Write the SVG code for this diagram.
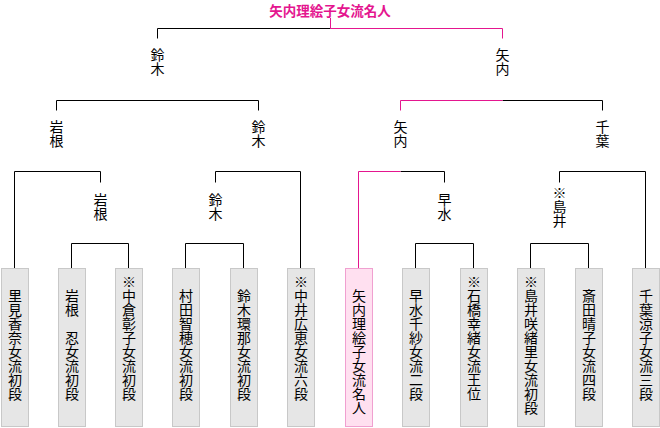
<svg xmlns="http://www.w3.org/2000/svg" width="660" height="428" viewBox="0 0 660 428">
<style>
text{font-family:"Noto Sans CJK JP","Noto Sans CJK SC",sans-serif;font-size:14px;fill:#000}
.v{writing-mode:vertical-rl;text-anchor:middle}
.vs{writing-mode:vertical-rl;text-anchor:start}
.box{fill:#e6e6e6;stroke:#c8c8c8;stroke-width:1}
.win{fill:#ffe0f0;stroke:#f0a0d0;stroke-width:1}
.l{fill:none;stroke:#000;stroke-width:1}
.p{fill:none;stroke:#e4168f;stroke-width:1}
.title{fill:#e4168f;font-weight:bold;text-anchor:middle;font-size:13.5px}
</style>
<rect width="660" height="428" fill="#fff"/>
<g id="connectors">
<path class="l" d="M71.5 268V243.5H128.5V268M185.5 268V243.5H243.5V268M415.5 268V243.5H473.5V268M530.5 268V243.5H588.5V268"/>
<path class="l" d="M14.5 268V171.5H100.5V182.5M215.5 182.5V171.5H300.5V268M400.5 171.5H444.5V182.5M559.5 182.5V171.5H645.5V268"/>
<path class="p" d="M358.5 268V171.5H400.5"/>
<path class="l" d="M56.5 110.5V100.5H258.5V110.5M502.5 100.5H602.5V110.5"/>
<path class="p" d="M400.5 110.5V100.5H502.5"/>
<path class="l" d="M157.5 38.5V28.5H330.5"/>
<path class="p" d="M330.5 18V28.5H502.5V38.5"/>
</g>
<g id="title"><text class="title" x="330" y="15.5">矢内理絵子女流名人</text></g>
<g id="r1-suzuki"><text class="v" x="157.5" y="62">鈴木</text></g>
<g id="r1-yauchi"><text class="v" x="502.5" y="62">矢内</text></g>
<g id="r2-iwane"><text class="v" x="56.5" y="134">岩根</text></g>
<g id="r2-suzuki"><text class="v" x="258.5" y="134">鈴木</text></g>
<g id="r2-yauchi"><text class="v" x="400.5" y="134">矢内</text></g>
<g id="r2-chiba"><text class="v" x="602.5" y="134">千葉</text></g>
<g id="r3-iwane"><text class="v" x="100.5" y="207">岩根</text></g>
<g id="r3-suzuki"><text class="v" x="215.5" y="207">鈴木</text></g>
<g id="r3-hayamizu"><text class="v" x="444.5" y="207">早水</text></g>
<g id="r3-shimai"><text class="v" x="559.5" y="207">※島井</text></g>
<g id="p1"><rect class="box" x="1.5" y="268.5" width="27" height="158"/><text class="vs" x="15" y="289">里見香奈女流初段</text></g>
<g id="p2"><rect class="box" x="58.5" y="268.5" width="27" height="158"/><text class="vs" x="72" y="289">岩根　忍女流初段</text></g>
<g id="p3"><rect class="box" x="115.5" y="268.5" width="27" height="158"/><text class="vs" x="129" y="275">※中倉彰子女流初段</text></g>
<g id="p4"><rect class="box" x="172.5" y="268.5" width="27" height="158"/><text class="vs" x="186" y="289">村田智穂女流初段</text></g>
<g id="p5"><rect class="box" x="230.5" y="268.5" width="27" height="158"/><text class="vs" x="244" y="289">鈴木環那女流初段</text></g>
<g id="p6"><rect class="box" x="287.5" y="268.5" width="27" height="158"/><text class="vs" x="301" y="275">※中井広恵女流六段</text></g>
<g id="p7"><rect class="win" x="345.5" y="268.5" width="27" height="158"/><text class="vs" x="359" y="289">矢内理絵子女流名人</text></g>
<g id="p8"><rect class="box" x="402.5" y="268.5" width="27" height="158"/><text class="vs" x="416" y="289">早水千紗女流二段</text></g>
<g id="p9"><rect class="box" x="460.5" y="268.5" width="27" height="158"/><text class="vs" x="474" y="275">※石橋幸緒女流王位</text></g>
<g id="p10"><rect class="box" x="517.5" y="268.5" width="27" height="158"/><text class="vs" x="531" y="275">※島井咲緒里女流初段</text></g>
<g id="p11"><rect class="box" x="575.5" y="268.5" width="27" height="158"/><text class="vs" x="589" y="289">斎田晴子女流四段</text></g>
<g id="p12"><rect class="box" x="632.5" y="268.5" width="27" height="158"/><text class="vs" x="646" y="289">千葉涼子女流三段</text></g>
</svg>
